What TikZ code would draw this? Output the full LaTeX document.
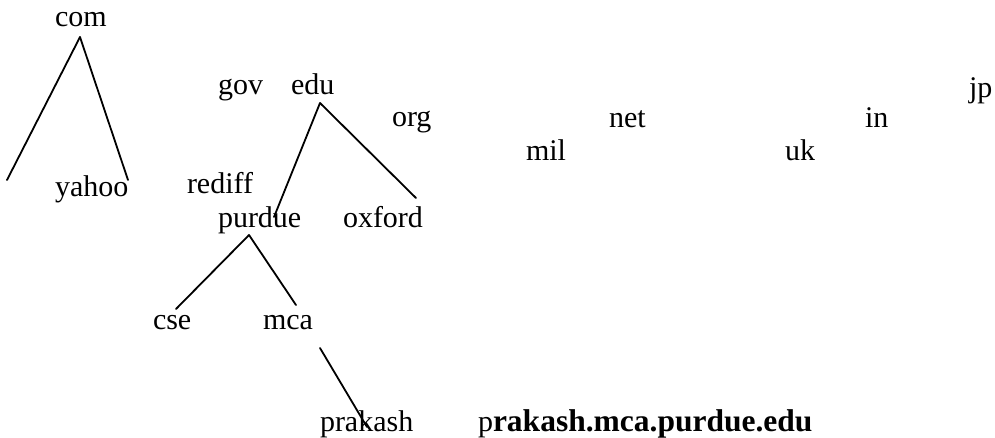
\documentclass[tikz,border=0pt]{standalone}
\usepackage{fontspec}
\setmainfont{Liberation Serif}
\begin{document}
\begin{tikzpicture}[x=1pt,y=-1pt,
  lbl/.style={anchor=base west,inner sep=0pt,outer sep=0pt,font=\fontsize{30}{36}\selectfont},
  edge/.style={line width=1.8pt,line cap=round}]
\useasboundingbox (0,0) rectangle (995,437);
% domain labels (positions are baseline-left)
\node[lbl] (com)     at (55,26)  {com};
\node[lbl] (gov)     at (218,94) {gov};
\node[lbl] (edu)     at (291,94) {edu};
\node[lbl] (jp)      at (969,97) {jp};
\node[lbl] (org)     at (392,126) {org};
\node[lbl] (net)     at (609,127) {net};
\node[lbl] (in)      at (865,127) {in};
\node[lbl] (mil)     at (526,160) {mil};
\node[lbl] (uk)      at (785,160) {uk};
\node[lbl] (yahoo)   at (55,196) {yahoo};
\node[lbl] (rediff)  at (187,193) {rediff};
\node[lbl] (purdue)  at (218,227) {purdue};
\node[lbl] (oxford)  at (343,227) {oxford};
\node[lbl] (cse)     at (153,329) {cse};
\node[lbl] (mca)     at (263,329) {mca};
\node[lbl] (prakash) at (320,431) {prakash};
\node[lbl] (fqdn)    at (478,431) {p{\fontsize{31.5}{36}\selectfont\bfseries rakash.mca.purdue.edu}};
% branch points and line ends
\coordinate (comB)  at (80,37);
\coordinate (comL)  at (7,180);
\coordinate (comR)  at (128,180);
\coordinate (eduB)  at (320,103);
\coordinate (eduL)  at (274,217);
\coordinate (eduR)  at (416,198);
\coordinate (purB)  at (249,235);
\coordinate (purL)  at (176,309);
\coordinate (purR)  at (296,305);
\coordinate (mcaB)  at (320,348);
\coordinate (praT)  at (367,427);
% tree edges
\draw[edge] (comB) -- (comL);
\draw[edge] (comB) -- (comR);
\draw[edge] (eduB) -- (eduL);
\draw[edge] (eduB) -- (eduR);
\draw[edge] (purB) -- (purL);
\draw[edge] (purB) -- (purR);
\draw[edge] (mcaB) -- (praT);
\end{tikzpicture}
\end{document}
